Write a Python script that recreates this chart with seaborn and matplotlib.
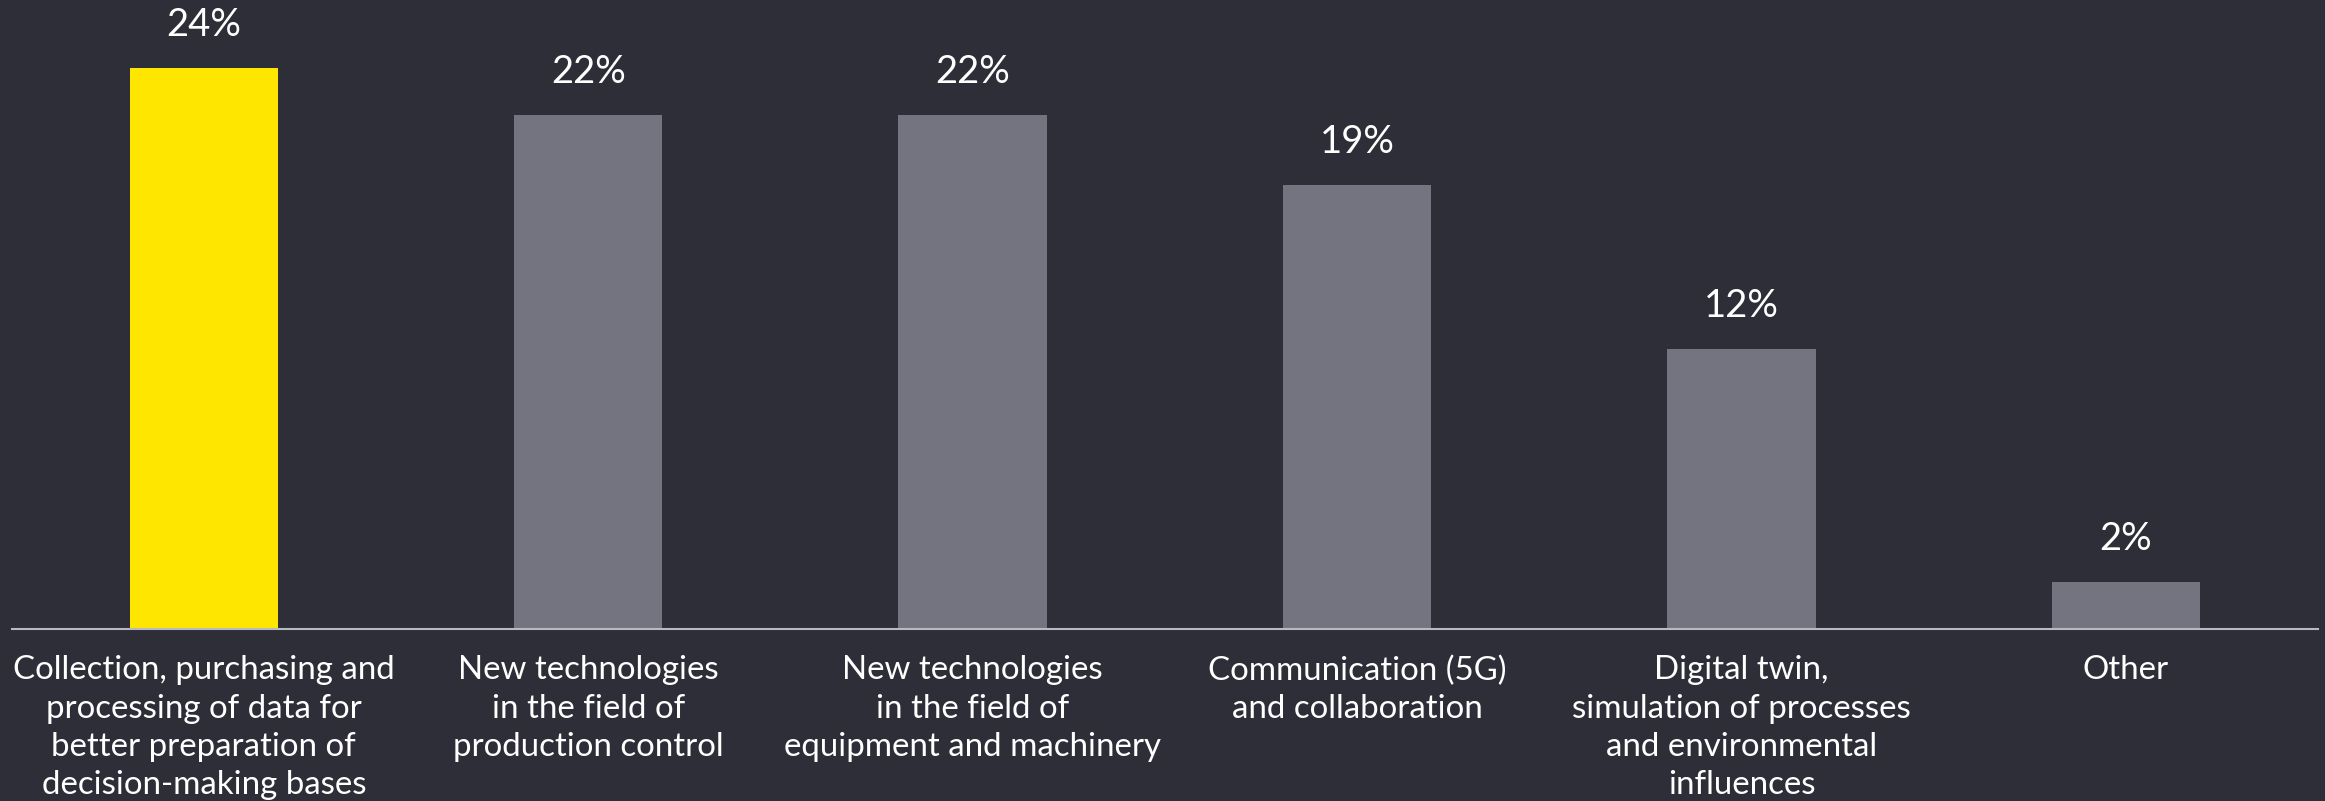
import matplotlib
matplotlib.use("Agg")
import matplotlib.pyplot as plt
import seaborn as sns
import pandas as pd

categories = [
    "Collection, purchasing and\nprocessing of data for\nbetter preparation of\ndecision-making bases",
    "New technologies\nin the field of\nproduction control",
    "New technologies\nin the field of\nequipment and machinery",
    "Communication (5G)\nand collaboration",
    "Digital twin,\nsimulation of processes\nand environmental\ninfluences",
    "Other",
]
values = [24, 22, 22, 19, 12, 2]
bar_colors = ["#ffe600", "#747480", "#747480", "#747480", "#747480", "#747480"]

bg = "#2e2e38"

sns.set_theme(style="white")
plt.rcParams["font.family"] = ["Lato", "DejaVu Sans"]

df = pd.DataFrame({"category": categories, "value": values})

fig = plt.figure(figsize=(23.25, 8.01), dpi=100, facecolor=bg)
ax = fig.add_axes([0.005, 0.2147, 0.992, 0.7853])
ax.set_facecolor(bg)

sns.barplot(data=df, x="category", y="value", hue="category", palette=bar_colors,
            legend=False, width=0.386, saturation=1, linewidth=0, ax=ax)

for c in ax.containers:
    ax.bar_label(c, labels=[f"{int(v)}%" for v in c.datavalues], padding=18,
                 color="white", fontsize=27.5)

ax.set_xlim(-0.5, 5.5)
ax.set_ylim(0, 26.93)
ax.set_xlabel("")
ax.set_ylabel("")
ax.set_yticks([])
ax.tick_params(axis="x", length=0, pad=19, labelsize=23.8, colors="white")
for lbl in ax.get_xticklabels():
    lbl.set_linespacing(1.34)
for s in ["top", "left", "right"]:
    ax.spines[s].set_visible(False)
ax.spines["bottom"].set_color("#b9b9c2")
ax.spines["bottom"].set_linewidth(1.5)

fig.savefig("out.png", dpi=100, facecolor=bg)
